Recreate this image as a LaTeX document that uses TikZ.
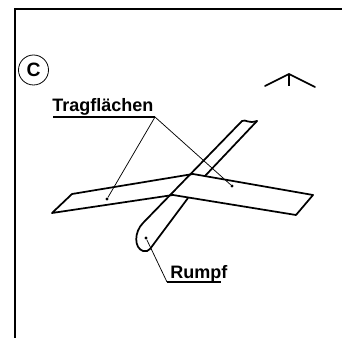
\documentclass[tikz,border=0pt]{standalone}
\usepackage{fontspec}
\setmainfont{Liberation Sans}
\tikzset{
  heavy/.style={line width=1.3pt,line join=round,line cap=round},
  frameline/.style={line width=1.5pt},
  leader/.style={line width=0.55pt},
  lbl/.style={inner sep=0pt,font=\bfseries\fontsize{13.5}{15}\selectfont,anchor=base west},
  tipdot/.style={circle,fill=black,inner sep=0pt,minimum size=2.4pt}
}
\begin{document}
\begin{tikzpicture}[x=0.75pt,y=-0.75pt]
\useasboundingbox (0,0) rectangle (342,338);
\coordinate (fa) at (15,338);
\coordinate (fb) at (15,9.5);
\coordinate (fc) at (342,9.5);
\draw[frameline] (fa) -- (fb) -- (fc);
\node[circle,draw,line width=0.6pt,minimum size=22.5pt,inner sep=0pt] (c) at (33.5,70) {};
\node[inner sep=0pt,font=\bfseries\fontsize{14.5}{16}\selectfont] at (c) {C};
\node[lbl] (tf) at (52,112) {Tragflächen};
\coordinate (tfa) at (53,117);
\coordinate (tfb) at (155,117);
\draw[line width=0.9pt] (tfa) -- (tfb);
\node[tipdot] (d1) at (107,199) {};
\node[tipdot] (d2) at (232,186) {};
\draw[leader] (tfb) -- (d1);
\draw[leader] (tfb) -- (d2);
\node[lbl] (ru) at (170,278) {Rumpf};
\coordinate (rua) at (167,282);
\coordinate (rub) at (221,282);
\draw[line width=0.9pt] (rua) -- (rub);
\node[tipdot] (d3) at (146,238) {};
\draw[leader] (rua) -- (d3);
% wings
\draw[heavy] (193,174) -- (72,194) -- (52,213) -- (173,195);
\draw[heavy] (193,174) -- (313,195) -- (296,215) -- (173,195);
% fuselage
\draw[heavy] (242,121) .. controls (246,119) and (248,124) .. (257,121);
\draw[heavy] (242,121) -- (143,223) .. controls (134,232) and (134,248) .. (143,251) .. controls (146,252) and (148,251) .. (150,249) -- (188,198);
\draw[heavy] (205,176) -- (257,121);
% arrow sign
\draw[heavy] (265,86) -- (289,74) -- (315,87);
\draw[line width=0.8pt] (289,74) -- (289,86);
\end{tikzpicture}
\end{document}
